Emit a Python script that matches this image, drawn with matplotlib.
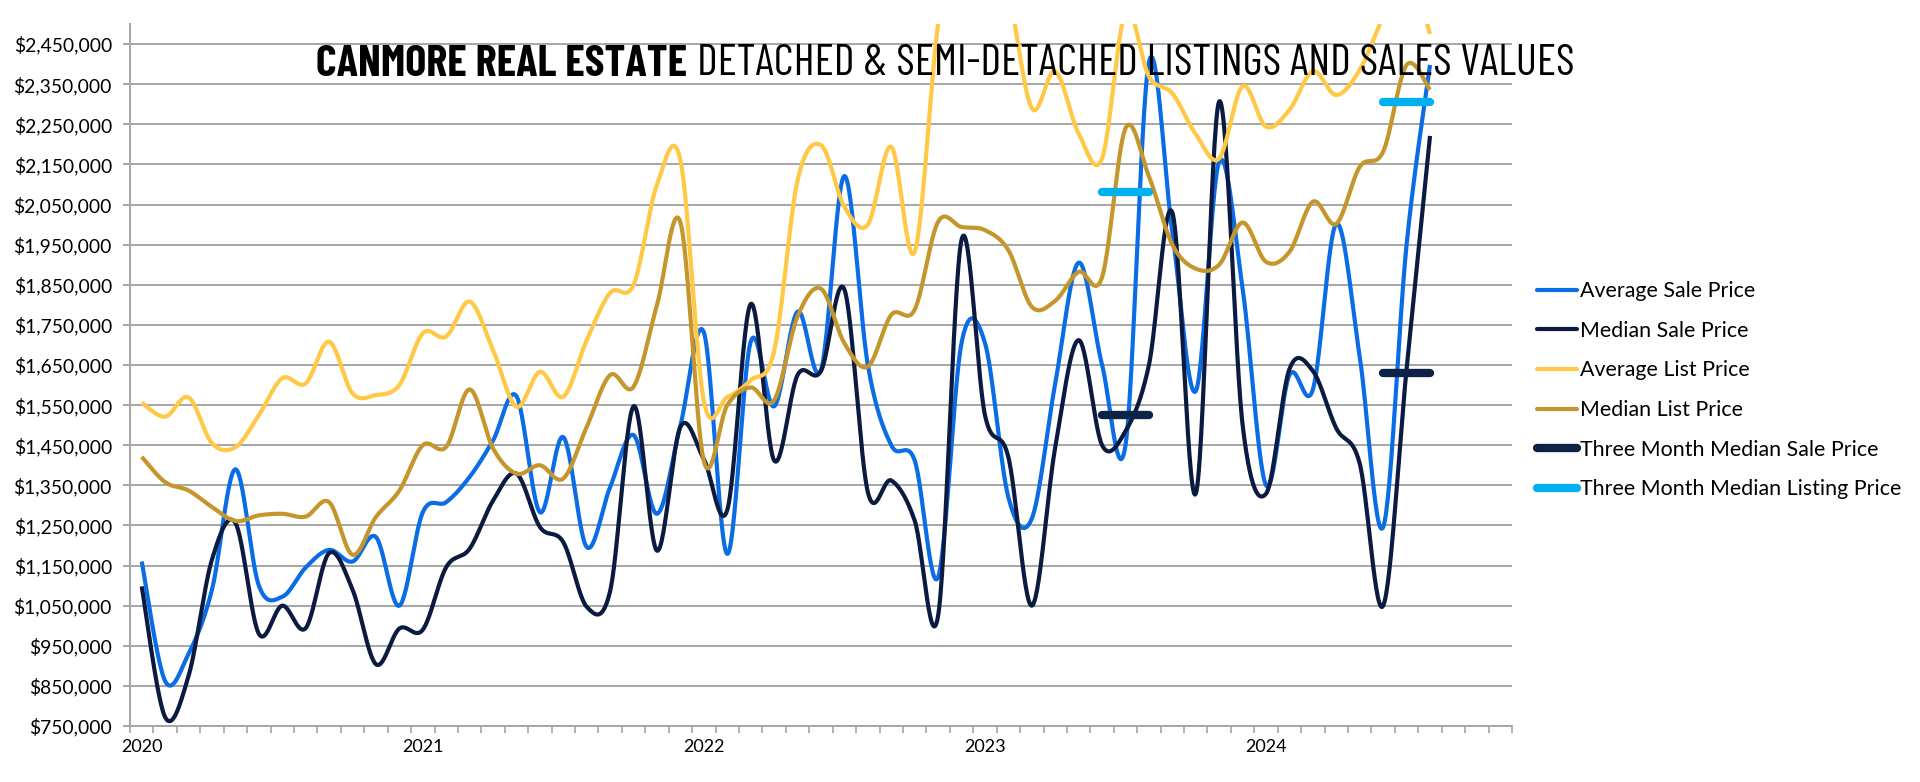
import numpy as np
import matplotlib
matplotlib.use('Agg')
import matplotlib.pyplot as plt
from matplotlib import font_manager as fm
from matplotlib.ticker import FixedLocator, FuncFormatter
from matplotlib.lines import Line2D

# ---------------- data (monthly, Jan 2020 .. Aug 2024) ----------------
months = list(range(56))
year_labels = ['2020', '2021', '2022', '2023', '2024']
year_pos = [0, 12, 24, 36, 48]

avg_sale = [1160000, 862000, 930000, 1090000, 1390000, 1100000, 1072000, 1145000,
            1189000, 1160000, 1221000, 1050000, 1283000, 1308000, 1371000, 1462000,
            1572000, 1283000, 1470000, 1196000, 1346000, 1475000, 1279000, 1500000,
            1731000, 1179000, 1708000, 1547000, 1783000, 1638000, 2121000, 1650000,
            1450000, 1412000, 1121000, 1705000, 1705000, 1320000, 1267000, 1604000,
            1905000, 1650000, 1450000, 2405000, 1980000, 1585000, 2157000, 1840000,
            1350000, 1625000, 1589000, 2002000, 1670000, 1246000, 1950000, 2398000]

med_sale = [1098000, 772000, 875000, 1165000, 1256000, 980000, 1050000, 994000,
            1181000, 1090000, 904000, 993000, 990000, 1146000, 1192000, 1312000,
            1379000, 1246000, 1208000, 1047000, 1087000, 1547000, 1187000, 1496000,
            1415000, 1289000, 1802000, 1412000, 1625000, 1635000, 1838000, 1333000,
            1362000, 1262000, 1025000, 1962000, 1525000, 1420000, 1050000, 1445000,
            1712000, 1450000, 1485000, 1650000, 2030000, 1329000, 2307000, 1500000,
            1329000, 1640000, 1635000, 1492000, 1404000, 1050000, 1640000, 2221000]

avg_list = [1556000, 1521000, 1569000, 1455000, 1445000, 1525000, 1617000, 1604000,
            1708000, 1579000, 1575000, 1600000, 1729000, 1721000, 1808000, 1687000,
            1546000, 1633000, 1571000, 1712000, 1830000, 1850000, 2100000, 2160000,
            1560000, 1570000, 1612000, 1685000, 2110000, 2198000, 2044000, 2000000,
            2194000, 1932000, 2500000, 2800000, 2750000, 2580000, 2290000, 2382000,
            2227000, 2165000, 2530000, 2369000, 2327000, 2225000, 2165000, 2345000,
            2244000, 2286000, 2382000, 2323000, 2386000, 2520000, 2650000, 2475000]

med_list = [1421000, 1358000, 1337000, 1296000, 1261000, 1275000, 1279000, 1272000,
            1308000, 1177000, 1271000, 1337000, 1450000, 1446000, 1589000, 1442000,
            1379000, 1400000, 1367000, 1496000, 1625000, 1596000, 1800000, 2005000,
            1410000, 1550000, 1594000, 1562000, 1771000, 1840000, 1704000, 1646000,
            1775000, 1788000, 2007000, 1994000, 1986000, 1936000, 1795000, 1810000,
            1882000, 1869000, 2240000, 2120000, 1950000, 1890000, 1900000, 2005000,
            1907000, 1932000, 2057000, 2002000, 2144000, 2182000, 2398000, 2336000]

# three-month medians (Jun-Aug 2023, Jun-Aug 2024)
tm_start = [41, 53]
tm_end = [43, 55]
tm_sale = [1525000, 1630000]
tm_list = [2080000, 2305000]

series_names = ['Average Sale Price', 'Median Sale Price', 'Average List Price',
                'Median List Price', 'Three Month Median Sale Price',
                'Three Month Median Listing Price']
colors = ['#0a6de6', '#0b1a40', '#ffc845', '#c4962c', '#0e2248', '#00b0f0']

title_bold = 'CANMORE REAL ESTATE'
title_rest = 'DETACHED & SEMI-DETACHED LISTINGS AND SALES VALUES'


def smooth(x, y, n=30):
    P = np.column_stack([np.asarray(x, float), np.asarray(y, float)])
    P = np.vstack([P[0], P, P[-1]])
    out = []
    t = np.linspace(0, 1, n, endpoint=False)[:, None]
    for i in range(1, len(P) - 2):
        p0, p1, p2, p3 = P[i - 1], P[i], P[i + 1], P[i + 2]
        c1 = p1 + (p2 - p0) / 6.0
        c2 = p2 - (p3 - p1) / 6.0
        b = (1 - t) ** 3 * p1 + 3 * (1 - t) ** 2 * t * c1 + 3 * (1 - t) * t ** 2 * c2 + t ** 3 * p2
        out.append(b)
    out.append(P[-2][None, :])
    out = np.vstack(out)
    return out[:, 0], out[:, 1]


# ---------------- fonts ----------------
avail = {f.name for f in fm.fontManager.ttflist}
base_font = 'Lato' if 'Lato' in avail else 'DejaVu Sans'
title_font = base_font
for cand in ['Barlow Condensed', 'Roboto Condensed', 'Liberation Sans Narrow']:
    if cand in avail:
        title_font = cand
        break
plt.rcParams['font.family'] = [base_font, 'DejaVu Sans']

fig = plt.figure(figsize=(19.2, 7.82), dpi=100)
ax = fig.add_axes([130 / 1920, 1 - 726 / 782, (1512 - 130) / 1920, 702 / 782])

grid_c = '#a6a6a6'
lw = 3.0
for vals, col, name in zip([avg_sale, med_sale, avg_list, med_list], colors[:4], series_names[:4]):
    xs, ys = smooth(months, vals)
    ax.plot(xs, ys, color=col, lw=lw, solid_capstyle='butt', label=name, zorder=3)

for s, e, v in zip(tm_start, tm_end, tm_sale):
    ax.plot([s, e], [v, v], color=colors[4], lw=6, solid_capstyle='round', zorder=4)
for s, e, v in zip(tm_start, tm_end, tm_list):
    ax.plot([s, e], [v, v], color=colors[5], lw=6, solid_capstyle='round', zorder=4)

ax.set_xlim(-0.5, 58.5)
ax.set_ylim(750000, 2500000)
yt = list(range(750000, 2450001, 100000))
ax.yaxis.set_major_locator(FixedLocator(yt))
ax.yaxis.set_major_formatter(FuncFormatter(lambda v, p: '${:,.0f}'.format(v)))
ax.xaxis.set_major_locator(FixedLocator(year_pos))
ax.set_xticklabels(year_labels)
ax.xaxis.set_minor_locator(FixedLocator([m - 0.5 for m in range(0, 60)]))
ax.grid(axis='y', color=grid_c, lw=1.4, zorder=0)
ax.set_axisbelow(True)
for sp in ['top', 'right']:
    ax.spines[sp].set_visible(False)
for sp in ['left', 'bottom']:
    ax.spines[sp].set_color(grid_c)
    ax.spines[sp].set_linewidth(1.4)
ax.tick_params(axis='y', direction='out', length=5, width=1.4, color=grid_c, labelsize=13.9, pad=8)
ax.tick_params(axis='x', which='major', length=0, labelsize=13, pad=9)
ax.tick_params(axis='x', which='minor', direction='out', length=5, width=1.2, color=grid_c)

handles = [Line2D([], [], color=c, lw=(3 if i < 4 else 6), solid_capstyle='round') for i, c in enumerate(colors)]
fig.legend(handles, series_names, loc='upper left', bbox_to_anchor=(1537 / 1920, 1 - 281 / 782),
           frameon=False, fontsize=15.4, handlelength=1.85, handletextpad=0.15, labelspacing=0.92,
           borderaxespad=0, borderpad=0)

# title (two weights), fitted to the reference width
renderer = fig.canvas.get_renderer()
ty = 1 - 64 / 782
x_left, x_right = 316, 1573


def place_title(fs):
    a = fig.text(x_left / 1920, ty, title_bold, fontsize=fs, fontweight='bold',
                 family=[title_font, 'DejaVu Sans'], va='center', ha='left', zorder=1)
    bb = a.get_window_extent(renderer)
    b = fig.text((bb.x1 + fs * 0.3) / 1920, ty, title_rest, fontsize=fs,
                 family=[title_font, 'DejaVu Sans'], va='center', ha='left', zorder=1)
    return a, b, b.get_window_extent(renderer).x1


fs0 = 30
a, b, x1 = place_title(fs0)
fs = fs0 * (x_right - x_left) / (x1 - x_left)
a.remove()
b.remove()
place_title(fs)

fig.savefig('out.png', dpi=100)
